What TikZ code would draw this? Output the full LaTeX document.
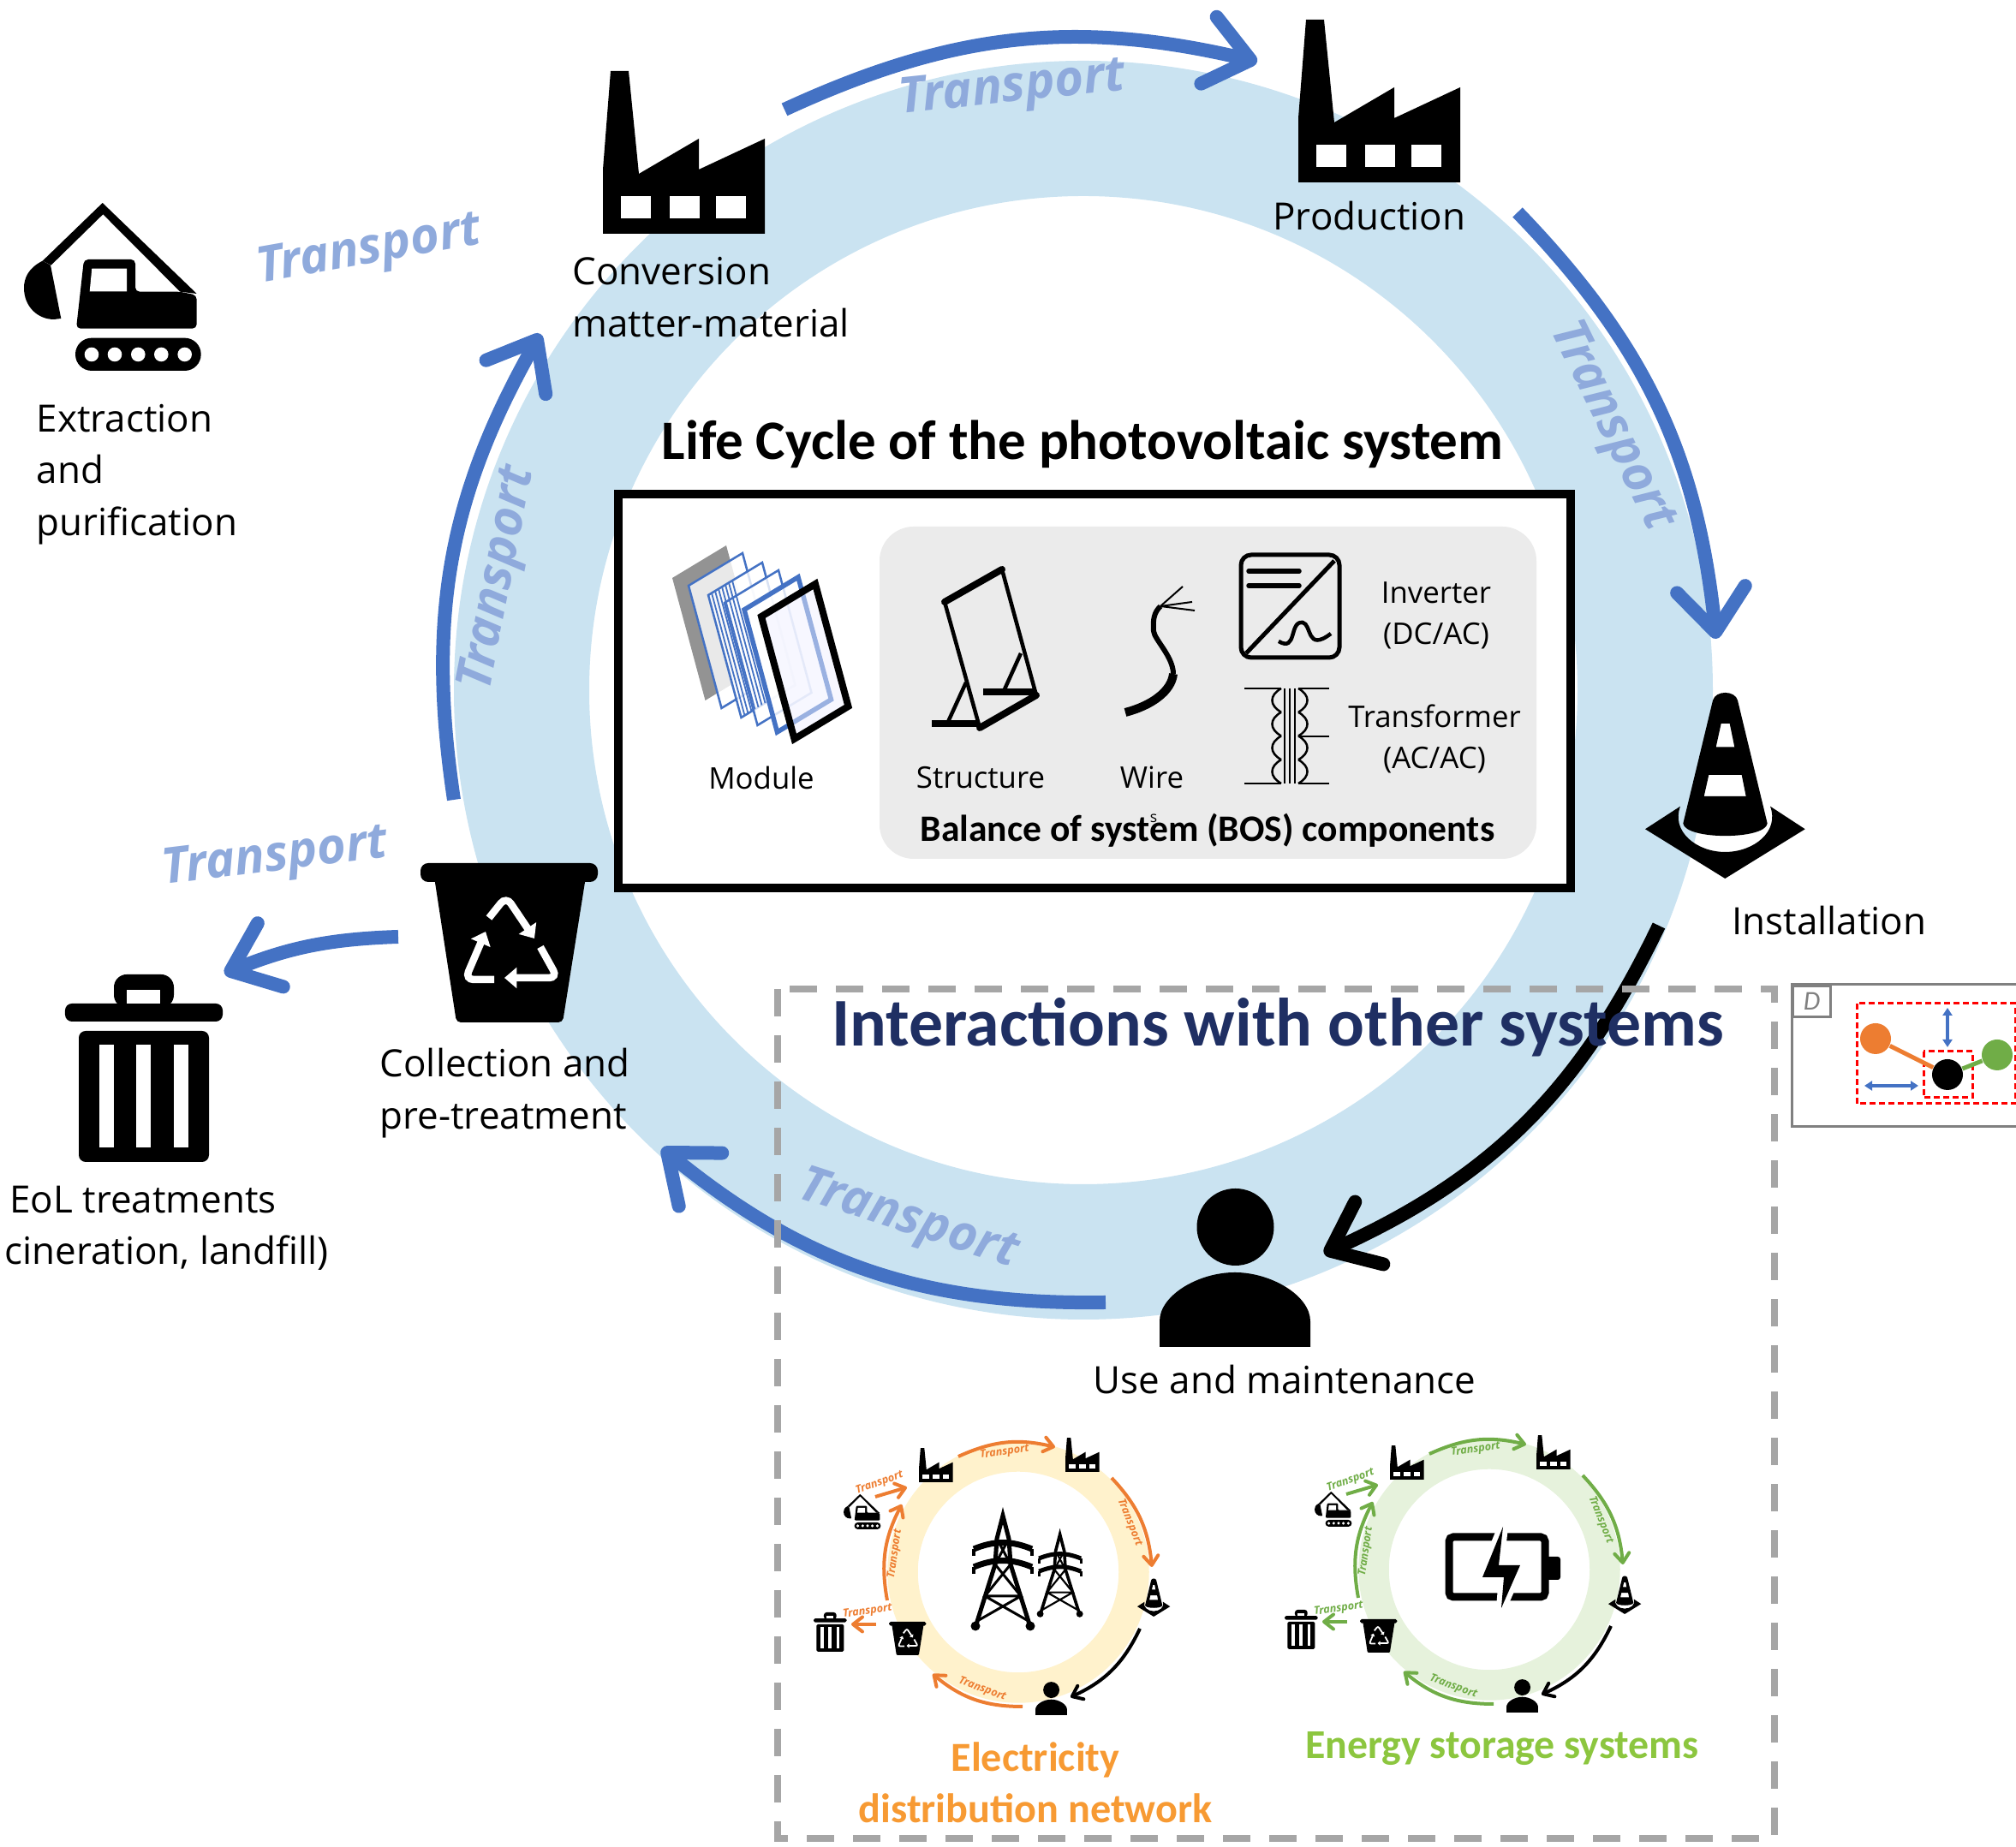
\documentclass[tikz,border=0pt]{standalone}
\usepackage{fontspec}
\setmainfont{Open Sans}
\newfontfamily\calfont{Carlito}
\usetikzlibrary{arrows.meta}
\definecolor{ringblue}{HTML}{CAE3F1}
\definecolor{ringorange}{HTML}{FFF2CC}
\definecolor{ringgreen}{HTML}{E6F2DC}
\definecolor{arrowblue}{HTML}{4472C4}
\definecolor{arroworange}{HTML}{ED7D31}
\definecolor{arrowgreen}{HTML}{70AD47}
\definecolor{labelblue}{HTML}{8FAADC}
\definecolor{textnavy}{HTML}{1F2F63}
\definecolor{textorange}{HTML}{F79A33}
\definecolor{textgreen}{HTML}{8CC63F}
\definecolor{boxgray}{HTML}{A6A6A6}
\def\ics{1}
\tikzset{
    iconsize/.code={\def\ics{#1}\tikzset{scale=#1}},
    bigring/.style={line width=1.58cm, draw=ringblue},
    bigarrow/.style={->, line width=0.16cm, draw=#1},
    tinyarrow/.style={->, >={Straight Barb[round, length=0.11cm, width=0.17cm]}, line width=0.04cm, draw=#1},
    bigtransport/.style={font=\fontsize{16.5}{19}\selectfont\bfseries\itshape, text=labelblue},
    tinytransport/.style={font=\fontsize{3.6}{4}\selectfont\bfseries\itshape, text=#1, inner sep=0pt},
    steplabel/.style={font=\fontsize{12.5}{17.3}\selectfont, align=left, inner sep=0pt},
    partlabel/.style={font=\fontsize{9.9}{13.8}\selectfont, align=center, inner sep=0pt},
    reddash/.style={draw=red, line width=0.03cm, dash pattern=on 0.07cm off 0.04cm},
    blueboth/.style={<->, >={Triangle[length=0.09cm, width=0.11cm]}, line width=0.035cm, draw=arrowblue},
    dcircle/.style={circle, fill=#1, minimum size=0.36cm, inner sep=0pt},
    pics/factory/.style={code={
        \fill (0,0) -- (0,0.75) -- (0.09,1.9) -- (0.3,1.9) -- (0.42,0.7) -- (1.12,1.11) -- (1.12,0.75)
            -- (1.89,1.11) -- (1.89,0) -- cycle;
        \foreach \wx in {0.21,0.78,1.32} {
            \fill[white] (\wx,0.18) rectangle ++(0.35,0.26);
        }
    }},
    pics/digger/.style={code={
        \fill (0.217,1.283) -- (0.917,1.96) -- (2.017,0.9) -- (1.823,0.923) -- (0.923,1.827)
            -- (0.317,1.233) -- cycle;
        \fill (0.217,1.283) .. controls (0.05,1.2) and (0,1.08) .. (0,0.967) .. controls (0,0.75) and (0.16,0.6) .. (0.35,0.6)
            -- (0.433,0.61) -- (0.31,1.233) -- cycle;
        \fill[rounded corners={0.05cm*\ics}] (0.61,0.493) -- (0.7,1.3) -- (1.3,1.3) -- (1.3,0.923) -- (1.823,0.923)
            -- (2.017,0.883) -- (2.017,0.493) -- cycle;
        \fill[white] (0.793,1.193) -- (1.2,1.193) -- (1.2,0.927) -- (0.767,0.927) -- cycle;
        \fill[rounded corners={0.19cm*\ics}] (0.6,0) rectangle (2.067,0.383);
        \foreach \dx in {0.79,1.06,1.333,1.603,1.877} {
            \fill[white] (\dx,0.19) circle (0.083);
        }
    }},
    pics/cone/.style={code={
        \fill (0,0.577) -- (0.41,0.843) .. controls (0.3,0.55) and (0.6,0.31) .. (0.933,0.31)
            .. controls (1.27,0.31) and (1.57,0.55) .. (1.46,0.843) -- (1.867,0.577) -- (0.933,0) -- cycle;
        \fill[even odd rule] (0.443,0.643) -- (0.79,2.08) .. controls (0.82,2.2) and (1.05,2.2) .. (1.08,2.08)
            -- (1.427,0.643) .. controls (1.4,0.45) and (0.47,0.45) .. (0.443,0.643) -- cycle
            (0.887,1.81) -- (0.987,1.81) -- (1.043,1.537) -- (0.827,1.537) -- cycle
            (0.743,1.21) -- (1.127,1.21) -- (1.177,0.96) -- (0.687,0.96) -- cycle;
    }},
    pics/person/.style={code={
        \fill (0.885,1.40) circle (0.45);
        \fill (0,0) -- (0,0.3) .. controls (0,0.6) and (0.45,0.87) .. (0.88,0.87)
            .. controls (1.3,0.87) and (1.76,0.6) .. (1.76,0.3) -- (1.76,0) -- cycle;
    }},
    pics/recyclebin/.style={code={
        \fill[rounded corners={0.09cm*\ics}] (0,1.64) rectangle (2.07,1.86);
        \fill[rounded corners={0.05cm*\ics}] (0.16,1.7) -- (1.93,1.7) -- (1.66,0) -- (0.42,0) -- cycle;
        \draw[white, line width={0.085cm*\ics}, rounded corners={0.1cm*\ics}, -{Triangle[length=0pt 1.7, width=0pt 2.8]}]
            (0.80,1.22) -- (1.0,1.47) -- (1.33,0.98);
        \draw[white, line width={0.085cm*\ics}, rounded corners={0.1cm*\ics}, -{Triangle[length=0pt 1.7, width=0pt 2.8]}]
            (0.86,0.50) -- (0.52,0.50) -- (0.76,1.06);
        \draw[white, line width={0.085cm*\ics}, rounded corners={0.1cm*\ics}, -{Triangle[length=0pt 1.7, width=0pt 2.8]}]
            (1.40,0.88) -- (1.60,0.52) -- (0.98,0.52);
    }},
    pics/trashbin/.style={code={
        \fill[rounded corners={0.08cm*\ics}] (0,1.64) -- (0,1.85) -- (1.84,1.85) -- (1.84,1.64) -- cycle;
        \fill[rounded corners={0.15cm*\ics}] (0.57,1.8) -- (0.57,2.19) -- (1.27,2.19) -- (1.27,1.8) -- cycle;
        \fill[white] (0.72,1.85) rectangle (1.11,2.01);
        \fill[rounded corners={0.08cm*\ics}] (0.16,1.53) -- (1.68,1.53) -- (1.68,0) -- (0.16,0) -- cycle;
        \foreach \sx in {0.40,0.83,1.27} {
            \fill[white] (\sx,0.17) rectangle ++(0.17,1.2);
        }
    }},
    pics/pylon/.style={code={
        \draw[line width={0.05cm*\ics}] (0.05,0.02) -- (0.28,0.75) -- (0.30,1.05) -- (0.37,1.32) -- (0.44,1.05) -- (0.46,0.75) -- (0.69,0.02);
        \draw[line width={0.07cm*\ics}] (0.03,0.93) to[bend left=22] (0.71,0.93);
        \draw[line width={0.07cm*\ics}] (0.03,0.72) to[bend left=22] (0.71,0.72);
        \draw[line width={0.04cm*\ics}] (0.03,0.93) -- (0.03,0.85) (0.71,0.93) -- (0.71,0.85) (0.03,0.72) -- (0.03,0.64) (0.71,0.72) -- (0.71,0.64);
        \draw[line width={0.03cm*\ics}] (0.30,1.05) -- (0.46,0.75) -- (0.16,0.38) -- (0.58,0.38) -- (0.28,0.75) -- (0.44,1.05)
            (0.16,0.38) -- (0.65,0.1) (0.58,0.38) -- (0.09,0.1);
        \fill (0.05,0.03) circle (0.055) (0.69,0.03) circle (0.055);
    }},
    pics/lifecycle/.style n args={3}{code={
        \draw[line width=0.355cm, draw=#1] (0,0) circle (1.35);
        \coordinate (-a1) at (-0.70,1.35);
        \coordinate (-a2) at (0.43,1.46);
        \coordinate (-b1) at (1.09,1.10);
        \coordinate (-b2) at (1.56,0.06);
        \coordinate (-c1) at (1.42,-0.66);
        \coordinate (-c2) at (0.61,-1.46);
        \coordinate (-d1) at (0.05,-1.57);
        \coordinate (-d2) at (-1.00,-1.19);
        \coordinate (-e1) at (-1.53,-0.33);
        \coordinate (-e2) at (-1.36,0.79);
        \coordinate (-f1) at (-1.67,0.88);
        \coordinate (-f2) at (-1.30,0.99);
        \coordinate (-g1) at (-1.66,-0.61);
        \coordinate (-g2) at (-1.95,-0.61);
        \draw[tinyarrow=#2] (-a1) to[bend left=19] (-a2);
        \draw[tinyarrow=#2] (-b1) to[bend left=19] (-b2);
        \draw[tinyarrow=black] (-c1) to[bend left=20] (-c2);
        \draw[tinyarrow=#2] (-d1) to[bend left=20] (-d2);
        \draw[tinyarrow=#2] (-e1) to[bend left=19] (-e2);
        \draw[tinyarrow=#2] (-f1) to (-f2);
        \draw[tinyarrow=#2] (-g1) to (-g2);
        \pic[iconsize=0.21] at (-1.16,1.05) {factory};
        \pic[iconsize=0.21] at (0.55,1.17) {factory};
        \pic[iconsize=0.21] at (-2.04,0.50) {digger};
        \pic[iconsize=0.205] at (1.39,-0.52) {cone};
        \pic[iconsize=0.21] at (0.20,-1.67) {person};
        \pic[iconsize=0.21] at (-1.51,-0.97) {recyclebin};
        \pic[iconsize=0.21] at (-2.39,-0.93) {trashbin};
        \node[tinytransport=#3, rotate=8] (-t1) at (-0.16,1.40) {Transport};
        \node[tinytransport=#3, rotate=-68] (-t2) at (1.30,0.58) {Transport};
        \node[tinytransport=#3, rotate=-20] (-t3) at (-0.42,-1.37) {Transport};
        \node[tinytransport=#3, rotate=82] (-t4) at (-1.44,0.21) {Transport};
        \node[tinytransport=#3, rotate=20] (-t5) at (-1.62,1.04) {Transport};
        \node[tinytransport=#3, rotate=8] (-t6) at (-1.76,-0.46) {Transport};
    }}
}
\begin{document}
\begin{tikzpicture}[>={Straight Barb[round, length=0.5cm, width=0.8cm]}]
    \useasboundingbox (0,0) rectangle (23.54,21.57);
    \clip (0,0) rectangle (23.54,21.57);

    \coordinate (ringcentre) at (12.65,13.51);
    \draw[bigring] (ringcentre) circle (6.56);

    \coordinate (topstart) at (9.16,20.29);
    \coordinate (topend) at (14.68,20.85);
    \coordinate (rightstart) at (17.72,19.09);
    \coordinate (rightend) at (20.04,14.11);
    \coordinate (usestart) at (19.37,10.76);
    \coordinate (useend) at (15.46,6.93);
    \coordinate (bottomstart) at (12.91,6.36);
    \coordinate (bottomend) at (7.73,8.16);
    \coordinate (leftstart) at (5.30,12.23);
    \coordinate (leftend) at (6.31,17.67);
    \coordinate (eolstart) at (4.65,10.63);
    \coordinate (eolend) at (2.62,10.20);
    \draw[bigarrow=arrowblue] (topstart) to[bend left=19] (topend);
    \draw[bigarrow=arrowblue] (rightstart) to[bend left=19] (rightend);
    \draw[bigarrow=black] (usestart) to[bend left=20] (useend);
    \draw[bigarrow=arrowblue] (bottomstart) to[bend left=20] (bottomend);
    \draw[bigarrow=arrowblue] (leftstart) to[bend left=19] (leftend);
    \draw[bigarrow=arrowblue] (eolstart) to[bend right=10] (eolend);

    \pic at (7.04,18.84) {factory};
    \pic at (15.16,19.44) {factory};
    \pic at (0.28,17.24) {digger};
    \pic at (19.21,11.31) {cone};
    \pic at (13.54,5.84) {person};
    \pic at (4.91,9.63) {recyclebin};
    \pic at (0.76,8.00) {trashbin};

    \node[bigtransport, rotate=6] (ttop) at (11.82,20.52) {Transport};
    \node[bigtransport, rotate=-64] (tright) at (18.81,16.59) {Transport};
    \node[bigtransport, rotate=-18] (tbottom) at (10.60,7.31) {Transport};
    \node[bigtransport, rotate=79] (tleft) at (5.83,14.81) {Transport};
    \node[bigtransport, rotate=10] (tdigger) at (4.31,18.63) {Transport};
    \node[bigtransport, rotate=7] (teol) at (3.21,11.54) {Transport};

    \node[steplabel, anchor=west] (extraction) at (0.42,16.03) {Extraction\\and\\purification};
    \node[steplabel, anchor=west] (conversion) at (6.68,18.10) {Conversion\\matter-material};
    \node[steplabel] (production) at (15.99,19.05) {Production};
    \node[steplabel] (installation) at (21.36,10.82) {Installation};
    \node[steplabel] (usemaint) at (15.00,5.46) {Use and maintenance};
    \node[steplabel, anchor=west] (collection) at (4.43,8.80) {Collection and\\pre-treatment};
    \node[steplabel] (eoltreat) at (1.67,7.56) {EoL treatments};
    \node[steplabel, anchor=west] (eolkinds) at (0.05,6.94) {cineration, landfill)};

    \node[font=\calfont\fontsize{18.5}{22}\selectfont\bfseries, inner sep=0pt] (lifetitle) at (12.64,16.38) {Life Cycle of the photovoltaic system};
    \draw[line width=0.1cm, fill=white] (7.22,15.80) rectangle (18.34,11.20);
    \fill[fill={rgb,255:red,235;green,235;blue,235}, rounded corners=0.4cm] (10.27,15.42) rectangle (17.94,11.54);

    \fill[gray!85] (7.85,14.82) -- ++(0.63,0.38) -- ++(0.385,-1.43) -- ++(-0.63,-0.38) -- cycle;
    \foreach \px/\py/\pw in {8.04/14.73/0.025, 8.27/14.62/0.025, 8.46/14.53/0.025, 8.69/14.45/0.055} {
        \draw[draw=arrowblue, line width=\pw cm, fill=white, fill opacity=0.8] (\px,\py) -- ++(0.63,0.38) -- ++(0.385,-1.43) -- ++(-0.63,-0.38) -- cycle;
    }
    \foreach \sk in {0.04,0.08,...,0.32} {
        \draw[draw=arrowblue, line width=0.018cm] (8.27+\sk,14.62+0.603*\sk) -- ++(0.385,-1.43);
    }
    \draw[line width=0.08cm, fill=blue!6, fill opacity=0.5] (8.89,14.37) -- ++(0.63,0.38) -- ++(0.385,-1.43) -- ++(-0.63,-0.38) -- cycle;
    \node[partlabel] (module) at (8.89,12.49) {Module};

    \draw[line width=0.045cm] (11.03,14.54) -- (11.44,13.07);
    \draw[line width=0.045cm] (11.70,14.92) -- (12.10,13.45);
    \draw[line width=0.08cm, line cap=round] (11.03,14.54) -- (11.70,14.92);
    \draw[line width=0.08cm, line cap=round] (12.10,13.45) -- (11.44,13.07);
    \draw[line width=0.08cm] (10.88,13.12) -- (11.44,13.12);
    \draw[line width=0.08cm] (11.48,13.49) -- (12.10,13.49);
    \draw[line width=0.045cm] (11.28,13.60) -- (11.07,13.14);
    \draw[line width=0.045cm] (11.92,13.94) -- (11.73,13.52);
    \node[partlabel] (structure) at (11.45,12.49) {Structure};

    \draw[line width=0.1cm] (13.14,13.25) .. controls (13.45,13.33) and (13.68,13.50) .. (13.70,13.70);
    \draw[line width=0.06cm] (13.70,13.70) .. controls (13.70,13.90) and (13.48,14.10) .. (13.47,14.20) .. controls (13.46,14.35) and (13.48,14.42) .. (13.55,14.49);
    \draw[line width=0.02cm] (13.55,14.49) -- (13.81,14.72);
    \draw[line width=0.02cm] (13.55,14.49) -- (13.92,14.54);
    \draw[line width=0.02cm] (13.55,14.49) -- (13.95,14.44);
    \node[partlabel] (wire) at (13.45,12.49) {Wire};

    \draw[line width=0.05cm, rounded corners=0.12cm] (14.49,15.09) rectangle (15.64,13.89);
    \draw[line width=0.05cm] (15.58,15.02) -- (14.55,13.94);
    \draw[line width=0.055cm, line cap=round] (14.58,14.90) -- (15.17,14.90);
    \draw[line width=0.055cm, line cap=round] (14.58,14.73) -- (15.17,14.73);
    \draw[line width=0.045cm] (14.93,14.08) .. controls (15.15,13.95) and (15.05,14.32) .. (15.21,14.30) .. controls (15.32,14.28) and (15.25,13.95) .. (15.54,14.17);
    \node[partlabel] (inverter) at (16.77,14.38) {Inverter\\(DC/AC)};

    \draw[line width=0.025cm] (14.53,13.53) -- (14.96,13.53);
    \draw[line width=0.025cm] (14.53,12.42) -- (14.96,12.42);
    \draw[line width=0.025cm] (15.16,13.53) -- (15.52,13.53);
    \draw[line width=0.025cm] (15.16,12.97) -- (15.52,12.97);
    \draw[line width=0.025cm] (15.16,12.42) -- (15.52,12.42);
    \foreach \cy in {13.53,13.2525,12.975,12.6975} {
        \draw[line width=0.025cm] (14.96,\cy) to[bend right=60, looseness=1.5] (14.96,\cy-0.2775);
        \draw[line width=0.025cm] (15.16,\cy) to[bend left=60, looseness=1.5] (15.16,\cy-0.2775);
    }
    \foreach \lx in {15.00,15.06,15.12} {
        \draw[line width=0.02cm] (\lx,13.53) -- (\lx,12.42);
    }
    \node[partlabel] (transformer) at (16.75,12.94) {Transformer\\(AC/AC)};

    \node[font=\calfont\fontsize{12.4}{15}\selectfont\bfseries, inner sep=0pt] (bostitle) at (14.10,11.87) {Balance of system (BOS) components};
    \node[font=\fontsize{5}{6}\selectfont, inner sep=0pt] (strays) at (13.47,12.01) {s};

    \draw[draw=boxgray, line width=0.08cm, dash pattern=on 0.32cm off 0.22cm] (9.08,10.02) rectangle (20.72,0.10);
    \node[font=\calfont\fontsize{22.7}{27}\selectfont\bfseries, text=textnavy, inner sep=0pt] (inttitle) at (14.92,9.57) {Interactions with other systems};

    \pic (elec) at (11.89,3.21) {lifecycle={ringorange}{arroworange}{arroworange}};
    \pic (store) at (17.39,3.24) {lifecycle={ringgreen}{arrowgreen}{arrowgreen}};

    \pic at (11.34,2.55) {pylon};
    \pic[iconsize=0.72] at (12.11,2.70) {pylon};

    \draw[line width=0.09cm, rounded corners=0.05cm] (16.92,3.62) rectangle (18.04,2.92);
    \fill[rounded corners=0.03cm] (18.04,3.39) rectangle (18.22,3.12);
    \draw[white, line width=0.12cm, fill=black, line join=miter] (17.55,3.74) -- (17.31,3.15) -- (17.56,3.15) -- (17.53,2.79) -- (17.75,3.29) -- (17.50,3.29) -- cycle;
    \fill (17.55,3.74) -- (17.31,3.15) -- (17.56,3.15) -- (17.53,2.79) -- (17.75,3.29) -- (17.50,3.29) -- cycle;

    \node[font=\calfont\fontsize{13.7}{17.2}\selectfont\bfseries, text=textorange, align=center, inner sep=0pt] (electext) at (12.09,0.75) {Electricity\\distribution network};
    \node[font=\calfont\fontsize{13.6}{17}\selectfont\bfseries, text=textgreen, inner sep=0pt] (storetext) at (17.54,1.15) {Energy storage systems};

    \draw[draw=gray, line width=0.03cm] (20.92,10.07) rectangle (24,8.41);
    \node[draw=gray, line width=0.03cm, minimum width=0.44cm, minimum height=0.36cm, inner sep=0pt, font=\calfont\fontsize{9}{10}\selectfont\itshape, text=gray, anchor=north west] (dtab) at (20.92,10.07) {D};
    \draw[reddash] (21.68,9.85) rectangle (23.53,8.68);
    \draw[reddash] (22.46,9.29) rectangle (23.03,8.75);
    \node[dcircle=arroworange] (dorange) at (21.90,9.44) {};
    \node[dcircle=arrowgreen] (dgreen) at (23.32,9.25) {};
    \node[dcircle=black] (dblack) at (22.74,9.02) {};
    \draw[draw=arroworange, line width=0.05cm] (dorange) -- (dblack);
    \draw[draw=arrowgreen, line width=0.05cm] (dblack) -- (dgreen);
    \coordinate (dupper) at (22.74,9.80);
    \coordinate (dlower) at (22.74,9.34);
    \coordinate (dleft) at (21.77,8.89);
    \coordinate (dright) at (22.40,8.89);
    \draw[blueboth] (dupper) -- (dlower);
    \draw[blueboth] (dleft) -- (dright);
\end{tikzpicture}
\end{document}
